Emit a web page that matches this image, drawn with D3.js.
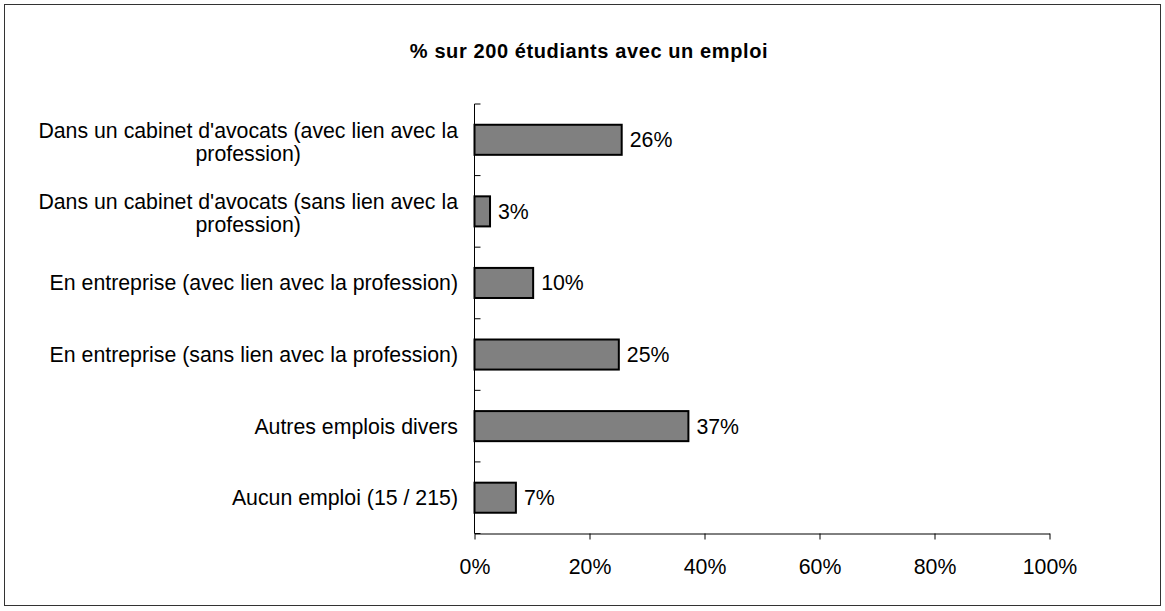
<!DOCTYPE html>
<html>
<head>
<meta charset="utf-8">
<script src="https://cdn.jsdelivr.net/npm/d3@7"></script>
<style>
  body { margin: 0; background: #fff; }
  text { font-family: "Liberation Sans", Arial, sans-serif; }
</style>
</head>
<body>
<svg id="chart"></svg>
<script>
// data
let categories = [
    ["Dans un cabinet d'avocats (avec lien avec la", "profession)"],
    ["Dans un cabinet d'avocats (sans lien avec la", "profession)"],
    ["En entreprise (avec lien avec la profession)"],
    ["En entreprise (sans lien avec la profession)"],
    ["Autres emplois divers"],
    ["Aucun emploi (15 / 215)"]
];
let values = [25.6, 2.7, 10.2, 25.1, 37.2, 7.2];
let xTicks = [0, 20, 40, 60, 80, 100];
let title = '% sur 200 étudiants avec un emploi';

let svgWidth = 1165;
let svgHeight = 611;
let fontSize = '21.3px';

let svg = d3.select('#chart')
    .attr('width', svgWidth)
    .attr('height', svgHeight);

// outer frame
svg.append('rect')
    .attr('x', 4.5)
    .attr('y', 4.5)
    .attr('width', 1156)
    .attr('height', 601)
    .attr('fill', 'none')
    .attr('stroke', '#333')
    .attr('stroke-width', 1);

svg.append('text')
    .attr('x', 589)
    .attr('y', 58)
    .attr('text-anchor', 'middle')
    .style('font-size', '20px')
    .style('font-weight', 'bold')
    .style('letter-spacing', '0.6px')
    .text(title);

let plotLeft = 474.5, plotRight = 1049.5, plotTop = 104, plotBottom = 533.5;

let xScale = d3.scaleLinear()
    .domain([0, 100])
    .range([plotLeft, plotRight]);

let yScale = d3.scaleBand()
    .domain(d3.range(categories.length))
    .range([plotTop, plotBottom])
    .paddingInner(0.58)
    .paddingOuter(0.29);

// x axis
let x_axis = d3.axisBottom(xScale)
    .tickValues(xTicks)
    .tickSize(6)
    .tickSizeOuter(0)
    .tickFormat(function(d) { return d + '%'; });

let gx = svg.append('g')
    .attr('transform', 'translate(0,' + plotBottom + ')')
    .call(x_axis);
gx.select('.domain').attr('stroke', '#000');
gx.selectAll('.tick line').attr('stroke', '#000');
gx.selectAll('.tick text')
    .attr('y', 25)
    .attr('dy', '0.71em')
    .attr('fill', '#000')
    .style('font-size', fontSize)
    .style('font-family', '"Liberation Sans", Arial, sans-serif');

// y axis: line with ticks at band boundaries
let boundaries = d3.range(categories.length + 1).map(function(i) {
    return plotTop + (plotBottom - plotTop) * i / categories.length;
});
svg.append('line')
    .attr('x1', plotLeft).attr('x2', plotLeft)
    .attr('y1', plotTop).attr('y2', plotBottom)
    .attr('stroke', '#000');
svg.selectAll('.ytick')
    .data(boundaries)
    .enter()
    .append('line')
    .attr('class', 'ytick')
    .attr('x1', plotLeft).attr('x2', plotLeft + 6)
    .attr('y1', function(d) { return d; })
    .attr('y2', function(d) { return d; })
    .attr('stroke', '#000');

// bars
svg.selectAll('.bar')
    .data(values)
    .enter()
    .append('rect')
    .attr('class', 'bar')
    .attr('x', xScale(0))
    .attr('y', function(d, i) { return yScale(i); })
    .attr('width', function(d) { return xScale(d) - xScale(0); })
    .attr('height', yScale.bandwidth())
    .attr('fill', '#808080')
    .attr('stroke', '#000')
    .attr('stroke-width', 2);

// value labels
svg.selectAll('.val')
    .data(values)
    .enter()
    .append('text')
    .attr('class', 'val')
    .attr('x', function(d) { return xScale(d) + 8; })
    .attr('y', function(d, i) { return yScale(i) + yScale.bandwidth() / 2; })
    .attr('dy', '0.35em')
    .style('font-size', fontSize)
    .text(function(d) { return Math.round(d) + '%'; });

// category labels (wrapped lines centred under the first line)
let labelRight = 458;
let lineH = 23;
svg.selectAll('.cat')
    .data(categories)
    .enter()
    .append('g')
    .attr('class', 'cat')
    .each(function(lines, i) {
        let g = d3.select(this);
        let c = yScale(i) + yScale.bandwidth() / 2;
        let y0 = c - (lines.length - 1) * lineH / 2 + (lines.length - 1) * 2;
        let first = g.append('text')
            .attr('x', labelRight)
            .attr('y', y0)
            .attr('dy', '0.35em')
            .attr('text-anchor', 'end')
            .style('font-size', fontSize)
            .text(lines[0]);
        let w = first.node().getComputedTextLength();
        lines.slice(1).forEach(function(line, j) {
            g.append('text')
                .attr('x', labelRight - w / 2)
                .attr('y', y0 + (j + 1) * lineH)
                .attr('dy', '0.35em')
                .attr('text-anchor', 'middle')
                .style('font-size', fontSize)
                .text(line);
        });
    });
</script>
</body>
</html>
